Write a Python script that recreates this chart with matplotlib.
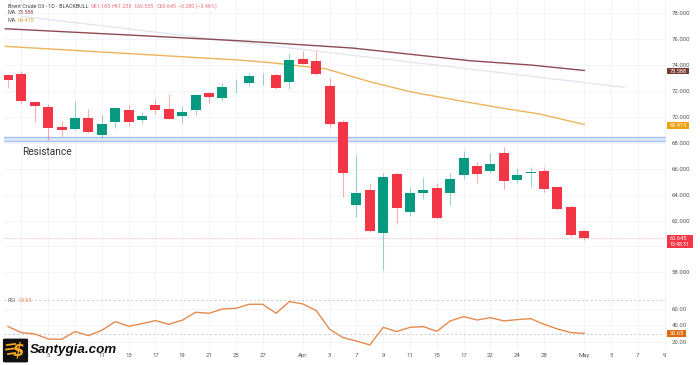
import matplotlib
matplotlib.use("Agg")
import matplotlib.pyplot as plt
from matplotlib.patches import FancyBboxPatch, Rectangle

plt.rcParams['font.family'] = ['Roboto', 'DejaVu Sans']

opens = [73.21,73.29,71.15,70.79,69.24,69.09,69.92,68.58,69.58,70.53,69.76,70.94,70.59,70.07,70.56,71.87,71.46,72.39,72.59,73.21,73.24,72.70,74.47,74.29,72.36,69.61,63.22,64.33,61.06,65.57,62.63,64.10,64.51,64.15,65.54,66.23,65.82,67.21,65.10,65.64,65.85,64.61,63.07,61.165]
highs = [73.24,73.54,71.15,70.97,69.68,71.23,70.61,70.12,70.72,70.92,70.40,71.38,71.77,70.82,71.72,71.90,72.59,72.90,73.41,73.37,73.37,74.91,75.09,75.09,73.03,69.76,67.06,64.92,65.64,65.77,64.61,65.38,64.92,65.64,67.37,66.49,67.19,67.70,66.03,66.11,66.15,64.64,63.20,61.235]
lows = [72.25,71.10,69.63,68.22,68.55,69.03,68.78,68.39,69.14,69.32,69.55,70.22,69.83,69.55,70.12,71.05,71.25,71.87,72.41,72.46,72.18,72.13,74.08,73.26,69.20,63.79,62.29,61.14,58.18,61.73,62.37,63.64,62.14,63.20,65.23,64.92,65.64,64.43,64.92,64.61,64.22,62.83,60.70,60.535]
closes = [72.83,71.20,70.86,69.12,68.97,69.89,68.81,69.47,70.69,69.63,70.07,70.51,69.86,70.40,71.69,71.51,72.29,72.42,73.16,73.24,72.21,74.39,74.11,73.29,69.47,65.64,64.10,61.21,65.34,62.94,64.15,64.38,62.17,65.18,66.80,65.59,66.34,65.07,65.51,65.77,64.46,62.86,60.88,60.645]

ma_dark_idx = [-0.2,8,17.3,25.7,34.5,39,43]
ma_dark = [76.81,76.38,75.88,75.32,74.34,74.01,73.588]
ma_orange_idx = [-0.2,5.4,17.3,19.6,23.7,27,30,33.7,36.7,39.7,43]
ma_orange = [75.45,75.11,74.39,74.19,73.72,72.72,71.95,71.25,70.71,70.22,69.415]
trend_idx = [1,46]
trend = [77.77,72.29]

rsi = [38.6,31.5,29.9,23.9,23.5,32.7,27.9,34.2,44.6,39,42.2,45.8,41.4,46.2,55.7,54.5,59.6,60.4,65.2,65.2,54.5,68.4,65.6,57.7,35.4,25.5,21.5,16.8,37.8,32.7,37.8,38.6,33,45.4,50.5,46.5,49.3,45.4,47,48.1,41.4,35.8,31.5,30.65]

price_ticks = [58,60,62,64,66,68,70,72,74,76,78]
rsi_ticks = [20,40,60]
x_tick_idx = [1,3,5,7,9,11,13,15,17,19,22,24,26,28,30,32,34,36,38,40,43,45,47,49]
x_tick_labels = ['','5','','11','13','17','19','21','25','27','Apr','3','7','9','11','15','17','22','24','28','May','5','7','9']

GREEN, RED = '#089981', '#F23645'
W, H = 700, 365

fig = plt.figure(figsize=(7, 3.65), dpi=100, facecolor='white')

def axes_px(x0, y0, x1, y1):
    return fig.add_axes([x0/W, 1-y1/H, (x1-x0)/W, (y1-y0)/H])

def ftext(x, y, s, **kw):
    kw.setdefault('va', 'center')
    kw.setdefault('ha', 'left')
    return fig.text(x/W, 1-y/H, s, **kw)

ax = axes_px(4, 0, 666, 291)
ax2 = axes_px(4, 291, 666, 350)
xlim = (-0.3, 49.1)
ax.set_xlim(xlim); ax2.set_xlim(xlim)
ax.set_ylim(56.56, 79.03)
ax2.set_ylim(10.8, 81)

for a in (ax, ax2):
    for s in a.spines.values():
        s.set_visible(False)
    a.grid(True, color='#F3F4F7', lw=0.7)
    a.set_axisbelow(True)
    a.yaxis.tick_right()
    a.tick_params(length=0, labelsize=4.3, labelcolor='#555555', pad=4)
    a.set_xticks(x_tick_idx)

ax.set_yticks(price_ticks)
ax.set_yticklabels([f'{t:.3f}' for t in price_ticks])
ax.tick_params(labelbottom=False)
ax2.set_yticks(rsi_ticks)
ax2.set_yticklabels([f'{t:.2f}' for t in rsi_ticks])
ax2.set_xticklabels(x_tick_labels)
ax2.tick_params(axis='x', pad=2.5)

# resistance band
ax.axhspan(68.14, 68.47, color='#DCE8FB', lw=0, zorder=1)
ax.axhline(68.47, color='#A9C4F0', lw=1, zorder=1.1)
ax.axhline(68.14, color='#A9C4F0', lw=1, zorder=1.1)
ax.axhline(closes[-1], color='#F0B4BA', lw=0.6, ls=(0, (1.5, 1.5)), zorder=1)

# moving averages
ax.plot(trend_idx, trend, color='#E2E4F2', lw=0.9, zorder=2)
ax.plot(ma_dark_idx, ma_dark, color='#8E4A52', lw=1.0, zorder=2)
ax.plot(ma_orange_idx, ma_orange, color='#EDB45C', lw=1.0, zorder=2)

# candles
for i, (o, h, l, c) in enumerate(zip(opens, highs, lows, closes)):
    col = GREEN if c >= o else RED
    ax.vlines(i, l, h, color=col, lw=0.8, alpha=0.4, zorder=3)
    ax.bar(i, abs(c-o), bottom=min(o, c), width=0.74, color=col, zorder=4, lw=0)

# RSI
ax2.axhline(70, color='#C9C9CC', lw=0.7, ls=(0, (2, 2.5)))
ax2.axhline(30, color='#C9C9CC', lw=0.7, ls=(0, (2, 2.5)))
ax2.plot(range(len(rsi)), rsi, color='#E58A4E', lw=1.0, zorder=3)

# legend text
ftext(8, 6, 'Brent Crude Oil - 1D - BLACKBULL', fontsize=3.9, color='#444444')
for x, s in [(90.7, 'O61.165'), (112, 'H61.235'), (134.7, 'L60.535'), (156.7, 'C60.645'), (178, '\u22120.280 (\u22120.46%)')]:
    ftext(x, 6, s, fontsize=3.9, color='#E8707A')
ftext(8, 13, 'MA', fontsize=3.9, color='#555555')
ftext(18, 13, '73.588', fontsize=3.9, color='#8E4A52')
ftext(8, 20.7, 'MA', fontsize=3.9, color='#555555')
ftext(18, 20.7, '69.415', fontsize=3.9, color='#E0A030')
ftext(8, 301, 'RSI', fontsize=3.9, color='#666666')
ftext(18.7, 301, '30.65', fontsize=3.9, color='#E58A4E')
ftext(22, 152, 'Resistance', fontsize=7.3, color='#333333')

# price labels
def box(x0, y0, x1, y1, col):
    fig.add_artist(Rectangle((x0/W, 1-y1/H), (x1-x0)/W, (y1-y0)/H, transform=fig.transFigure, color=col, lw=0, zorder=5))

box(667, 68.3, 688.7, 74.3, '#7A3B32')
ftext(678, 71.3, '73.588', fontsize=4.1, color='white', ha='center', zorder=6)
box(667, 122, 688.7, 128.7, '#EFA00B')
ftext(678, 125.4, '69.415', fontsize=4.1, color='white', ha='center', zorder=6)
box(667, 235, 693, 248, RED)
ftext(670, 238.8, '60.645', fontsize=4.1, color='white', zorder=6)
ftext(670, 244.5, '13:48:31', fontsize=3.7, color='white', zorder=6)
box(667, 330, 686, 337, '#E06A10')
ftext(676.5, 333.6, '30.65', fontsize=4.1, color='white', ha='center', zorder=6)

# logo
fig.add_artist(FancyBboxPatch((5/W, 1-361/H), 21/W, 21/H, boxstyle='round,pad=0.002',
                              transform=fig.transFigure, fc='#111111', ec='#111111', lw=1, zorder=7))
for yy, x0, x1 in [(345, 7, 15), (349.5, 6, 14), (354, 8, 15)]:
    fig.add_artist(plt.Line2D([x0/W, x1/W], [1-yy/H, 1-(yy-1)/H], transform=fig.transFigure,
                              color='#F5A623', lw=1.3, zorder=8))
ftext(18.5, 350.5, '$', fontsize=12, color='#F5A623', ha='center', style='italic', weight='bold',
      family='DejaVu Sans', zorder=9)
ftext(30, 350.5, 'Santygia.com', fontsize=9.6, color='#111111', style='italic', weight='bold',
      family='Liberation Sans', zorder=9)

fig.savefig('out.png', dpi=100, facecolor='white')
